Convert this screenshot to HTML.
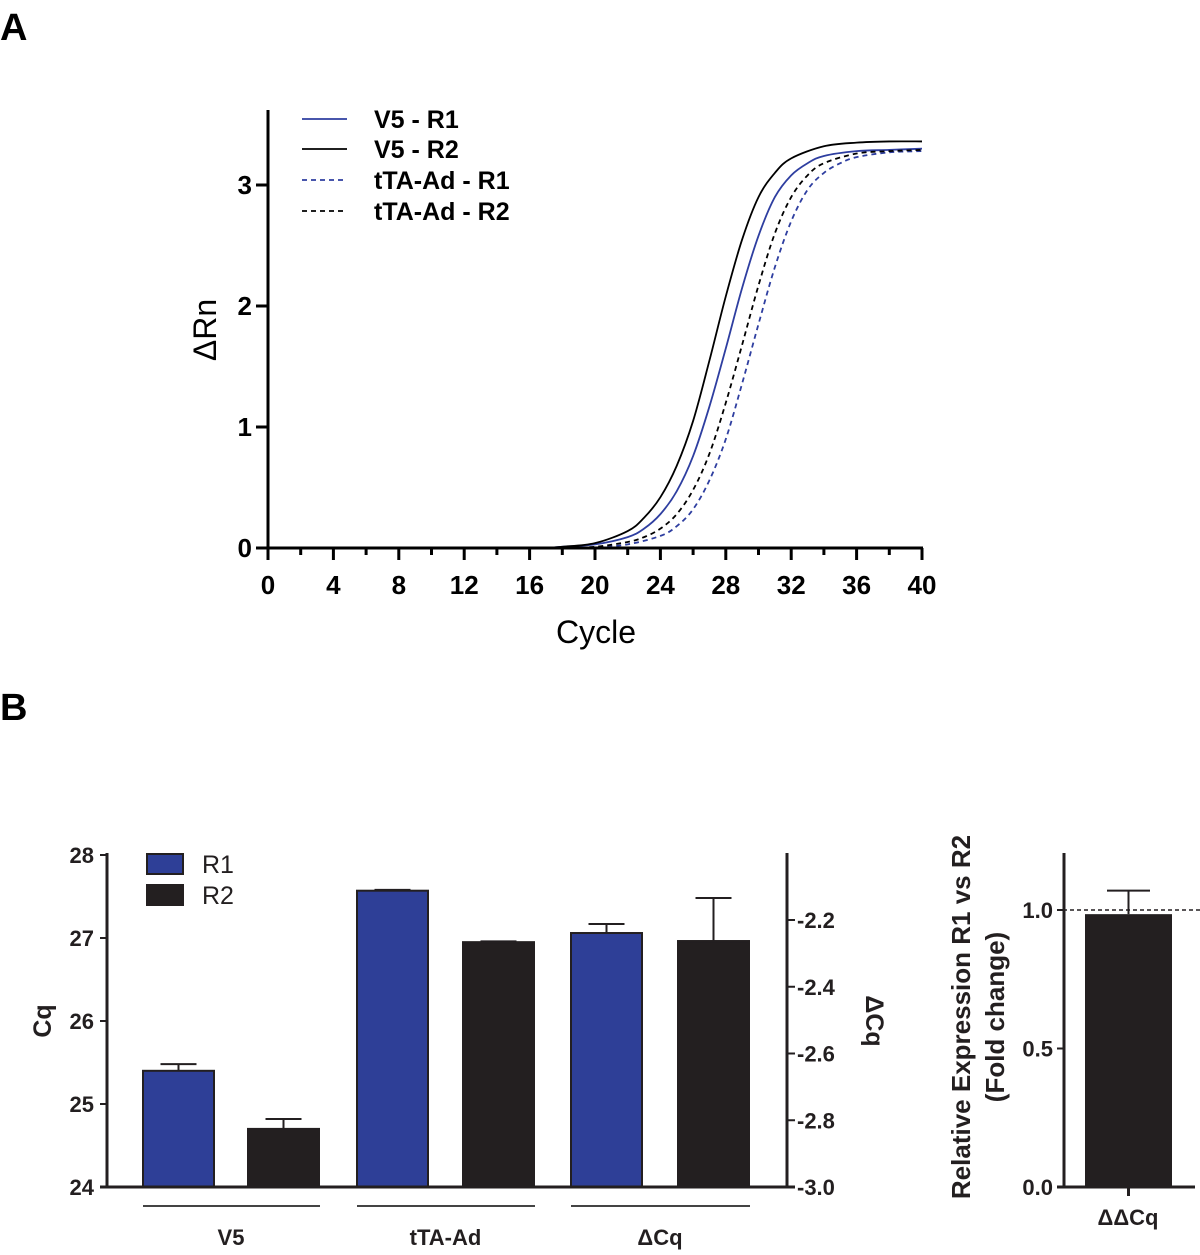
<!DOCTYPE html>
<html><head><meta charset="utf-8"><style>
body{margin:0;background:#fff;}
svg{display:block;font-family:"Liberation Sans",Arial,sans-serif;}
</style></head><body>
<svg id="fig" width="1200" height="1255" viewBox="0 0 1200 1255">
<text x="0" y="40" font-size="38" font-weight="bold">A</text>
<text x="0" y="720" font-size="38" font-weight="bold">B</text>
<g id="pa"></g>
<g id="pb"></g>
<g id="pc"></g>
</svg>
<script>
// ---- Panel A data ----
const cyclesR2 = [17,18,20,22,23,24,25,26,27,28,29,30,31,32,34,36,38,40];
const v5R2 =     [0,0.01,0.04,0.14,0.25,0.42,0.68,1.05,1.55,2.08,2.55,2.9,3.1,3.22,3.32,3.35,3.36,3.36];
const cyclesR1 = [17,18,20,22,23,24,25,26,27,28,29,30,31,32,33,34,36,38,40];
const v5R1 =     [0,0.01,0.03,0.09,0.16,0.28,0.47,0.76,1.17,1.65,2.15,2.58,2.9,3.08,3.18,3.24,3.28,3.29,3.30];
const cyclesTR2 = [18,20,22,23,24,25,26,27,28,29,30,31,32,33,34,36,38,40];
const ttaR2 =     [0,0.01,0.05,0.09,0.16,0.28,0.48,0.78,1.2,1.68,2.17,2.6,2.9,3.08,3.18,3.26,3.28,3.29];
const cyclesTR1 = [18,20,22,24,25,26,27,28,29,30,31,32,33,34,35,36,38,40];
const ttaR1 =     [0,0.005,0.03,0.1,0.18,0.32,0.56,0.9,1.36,1.85,2.32,2.7,2.96,3.1,3.18,3.23,3.27,3.28];
const xTicksA = [0,4,8,12,16,20,24,28,32,36,40];
const yTicksA = [0,1,2,3];
const legendA = ["V5 - R1","V5 - R2","tTA-Ad - R1","tTA-Ad - R2"];

// ---- Panel B data ----
const groupsB = ["V5","tTA-Ad","\u0394Cq"];
const r1Vals = [25.40, 27.57, -2.239];
const r1Err  = [0.08, 0.01, 0.027];
const r2Vals = [24.70, 26.95, -2.263];
const r2Err  = [0.12, 0.01, 0.129];
const yTicksCq = [24,25,26,27,28];
const yTicksDCq = [-3.0,-2.8,-2.6,-2.4,-2.2];

// ---- Panel C data ----
const foldVal = [0.985];
const foldErr = [0.085];
const yTicksFold = [0.0,0.5,1.0];

const NS="http://www.w3.org/2000/svg";
function mk(parent,tag,attrs,text){const e=document.createElementNS(NS,tag);for(const k in attrs)e.setAttribute(k,attrs[k]);if(text!==undefined)e.textContent=text;parent.appendChild(e);return e;}

// ===== Panel A =====
const pa=document.getElementById('pa');
const ax=c=>268+c*16.35, ay=v=>548-v*121;
function smoothPath(xs,ys){
  const p=xs.map((x,i)=>[ax(x),ay(ys[i])]);
  let d=`M${p[0][0]},${p[0][1]}`;
  for(let i=0;i<p.length-1;i++){
    const p0=p[Math.max(0,i-1)],p1=p[i],p2=p[i+1],p3=p[Math.min(p.length-1,i+2)];
    const c1=[p1[0]+(p2[0]-p0[0])/6,p1[1]+(p2[1]-p0[1])/6];
    const c2=[p2[0]-(p3[0]-p1[0])/6,p2[1]-(p3[1]-p1[1])/6];
    d+=`C${c1[0]},${c1[1]} ${c2[0]},${c2[1]} ${p2[0]},${p2[1]}`;
  }
  return d;
}
const seriesA=[[cyclesR1,v5R1,'#2e3ea0',''],[cyclesR2,v5R2,'#000',''],[cyclesTR1,ttaR1,'#2e3ea0','5,4'],[cyclesTR2,ttaR2,'#000','5,4']];
const snames=['curve-v5-r1','curve-v5-r2','curve-tta-r1','curve-tta-r2'];
seriesA.forEach((s,i)=>{
  const el=mk(pa,'path',{d:smoothPath(s[0],s[1]),fill:'none',stroke:s[2],'stroke-width':1.8,'stroke-dasharray':s[3]});
  
  
});
let e=mk(pa,'line',{x1:268,y1:110,x2:268,y2:549.5,stroke:'#000','stroke-width':3});


e=mk(pa,'line',{x1:266.5,y1:548,x2:923,y2:548,stroke:'#000','stroke-width':3});


for(let c=0;c<=40;c+=2){
  const major=c%4===0;
  mk(pa,'line',{x1:ax(c),y1:548,x2:ax(c),y2:major?560:555,stroke:'#000','stroke-width':3});
}
xTicksA.forEach(c=>{
  e=mk(pa,'text',{x:ax(c),y:594,'font-size':26,'font-weight':'bold','text-anchor':'middle'},String(c));
  
  
});
yTicksA.forEach(v=>{
  mk(pa,'line',{x1:256,y1:ay(v),x2:268,y2:ay(v),stroke:'#000','stroke-width':3});
  e=mk(pa,'text',{x:252,y:ay(v)+9,'font-size':26,'font-weight':'bold','text-anchor':'end'},String(v));
  
  
});
e=mk(pa,'text',{x:596,y:643,'font-size':32,'text-anchor':'middle'},'Cycle');


e=mk(pa,'text',{x:0,y:0,'font-size':32,'text-anchor':'middle',transform:'translate(216,330) rotate(-90)'},'\u0394Rn');


const legY=[119,149,180,211];
[0,1,2,3].forEach((si,i)=>{
  const s=seriesA[si];
  mk(pa,'line',{x1:302,y1:legY[i],x2:347,y2:legY[i],stroke:s[2],'stroke-width':1.8,'stroke-dasharray':s[3]});
  e=mk(pa,'text',{x:374,y:legY[i]+9,'font-size':25,'font-weight':'bold'},legendA[si]);
  
  
});

// ===== Panel B =====
const pb=document.getElementById('pb');
const cqY=v=>1187-(v-24)*83;
const dY=v=>1187-(v+3)*333.75;
const r1X=[143,357,571], r2X=[248,463,678], bw=71;
groupsB.forEach((g,i)=>{
  const yf=i<2?cqY:dY;
  [[r1X[i],r1Vals[i],r1Err[i],'#2e3f97','bar-r1-'],[r2X[i],r2Vals[i],r2Err[i],'#231f20','bar-r2-']].forEach(b=>{
    const top=yf(b[1]);
    const et=yf(b[1]+b[2]);
    mk(pb,'line',{x1:b[0]+bw/2,y1:top,x2:b[0]+bw/2,y2:et,stroke:'#231f20','stroke-width':2});
    mk(pb,'line',{x1:b[0]+bw/2-18,y1:et,x2:b[0]+bw/2+18,y2:et,stroke:'#231f20','stroke-width':2});
    e=mk(pb,'rect',{x:b[0],y:top,width:bw,height:1187-top,fill:b[3],stroke:'#231f20','stroke-width':2});
    
    
  });
  mk(pb,'line',{x1:r1X[i],y1:1206,x2:r2X[i]+bw+1,y2:1206,stroke:'#444','stroke-width':2});
  e=mk(pb,'text',{x:(r1X[i]+r2X[i]+bw)/2,y:1245,'font-size':22,'font-weight':'bold','text-anchor':'middle',fill:'#231f20'},g);
  
  
});
e=mk(pb,'line',{x1:107,y1:853,x2:107,y2:1188,stroke:'#231f20','stroke-width':3});


e=mk(pb,'line',{x1:100,y1:1187,x2:795,y2:1187,stroke:'#231f20','stroke-width':3});


e=mk(pb,'line',{x1:787,y1:853,x2:787,y2:1188,stroke:'#231f20','stroke-width':3});


yTicksCq.forEach(v=>{
  mk(pb,'line',{x1:100,y1:cqY(v),x2:107,y2:cqY(v),stroke:'#231f20','stroke-width':2});
  e=mk(pb,'text',{x:94,y:cqY(v)+8,'font-size':22,'text-anchor':'end',fill:'#231f20','font-weight':'bold'},String(v));
  
  
});
yTicksDCq.forEach(v=>{
  mk(pb,'line',{x1:787,y1:dY(v),x2:795,y2:dY(v),stroke:'#231f20','stroke-width':2});
  e=mk(pb,'text',{x:797,y:dY(v)+8,'font-size':22,'font-weight':'bold',fill:'#231f20'},v.toFixed(1));
  
  
});
e=mk(pb,'text',{x:0,y:0,'font-size':25,'font-weight':'bold','text-anchor':'middle',fill:'#231f20',transform:'translate(51,1021) rotate(-90)'},'Cq');


e=mk(pb,'text',{x:0,y:0,'font-size':25,'font-weight':'bold','text-anchor':'middle',fill:'#231f20',transform:'translate(866,1021) rotate(90)'},'\u0394Cq');


[['#2e3f97','R1',864],['#231f20','R2',895]].forEach(l=>{
  mk(pb,'rect',{x:147,y:l[2]-10,width:36,height:20,fill:l[0],stroke:'#231f20','stroke-width':2});
  e=mk(pb,'text',{x:202,y:l[2]+9,'font-size':25,fill:'#231f20'},l[1]);
  
  
});

// ===== Panel C =====
const pc=document.getElementById('pc');
const fY=v=>1187-v*277;
{
  const top=fY(foldVal[0]), et=fY(foldVal[0]+foldErr[0]);
  mk(pc,'line',{x1:1128.5,y1:top,x2:1128.5,y2:et,stroke:'#231f20','stroke-width':2});
  mk(pc,'line',{x1:1107,y1:et,x2:1150,y2:et,stroke:'#231f20','stroke-width':2});
  e=mk(pc,'rect',{x:1085,y:top,width:87,height:1187-top,fill:'#231f20'});
  
  
}
e=mk(pc,'line',{x1:1063,y1:fY(1),x2:1200,y2:fY(1),stroke:'#231f20','stroke-width':1.5,'stroke-dasharray':'4,3'});


e=mk(pc,'line',{x1:1064,y1:853,x2:1064,y2:1188,stroke:'#231f20','stroke-width':3});


mk(pc,'line',{x1:1057,y1:1187,x2:1195,y2:1187,stroke:'#231f20','stroke-width':3});
mk(pc,'line',{x1:1128.5,y1:1187,x2:1128.5,y2:1196,stroke:'#231f20','stroke-width':3});
yTicksFold.forEach(v=>{
  mk(pc,'line',{x1:1057,y1:fY(v),x2:1064,y2:fY(v),stroke:'#231f20','stroke-width':2});
  e=mk(pc,'text',{x:1053,y:fY(v)+8,'font-size':22,'font-weight':'bold','text-anchor':'end',fill:'#231f20'},v.toFixed(1));
  
  
});
e=mk(pc,'text',{x:1128,y:1225,'font-size':22,'font-weight':'bold','text-anchor':'middle',fill:'#231f20'},'\u0394\u0394Cq');


e=mk(pc,'text',{x:0,y:0,'font-size':26,'font-weight':'bold','text-anchor':'middle',fill:'#231f20',transform:'translate(970,1017) rotate(-90)'},'Relative Expression R1 vs R2');


e=mk(pc,'text',{x:0,y:0,'font-size':26,'font-weight':'bold','text-anchor':'middle',fill:'#231f20',transform:'translate(1004,1017) rotate(-90)'},'(Fold change)');


</script>
</body></html>
